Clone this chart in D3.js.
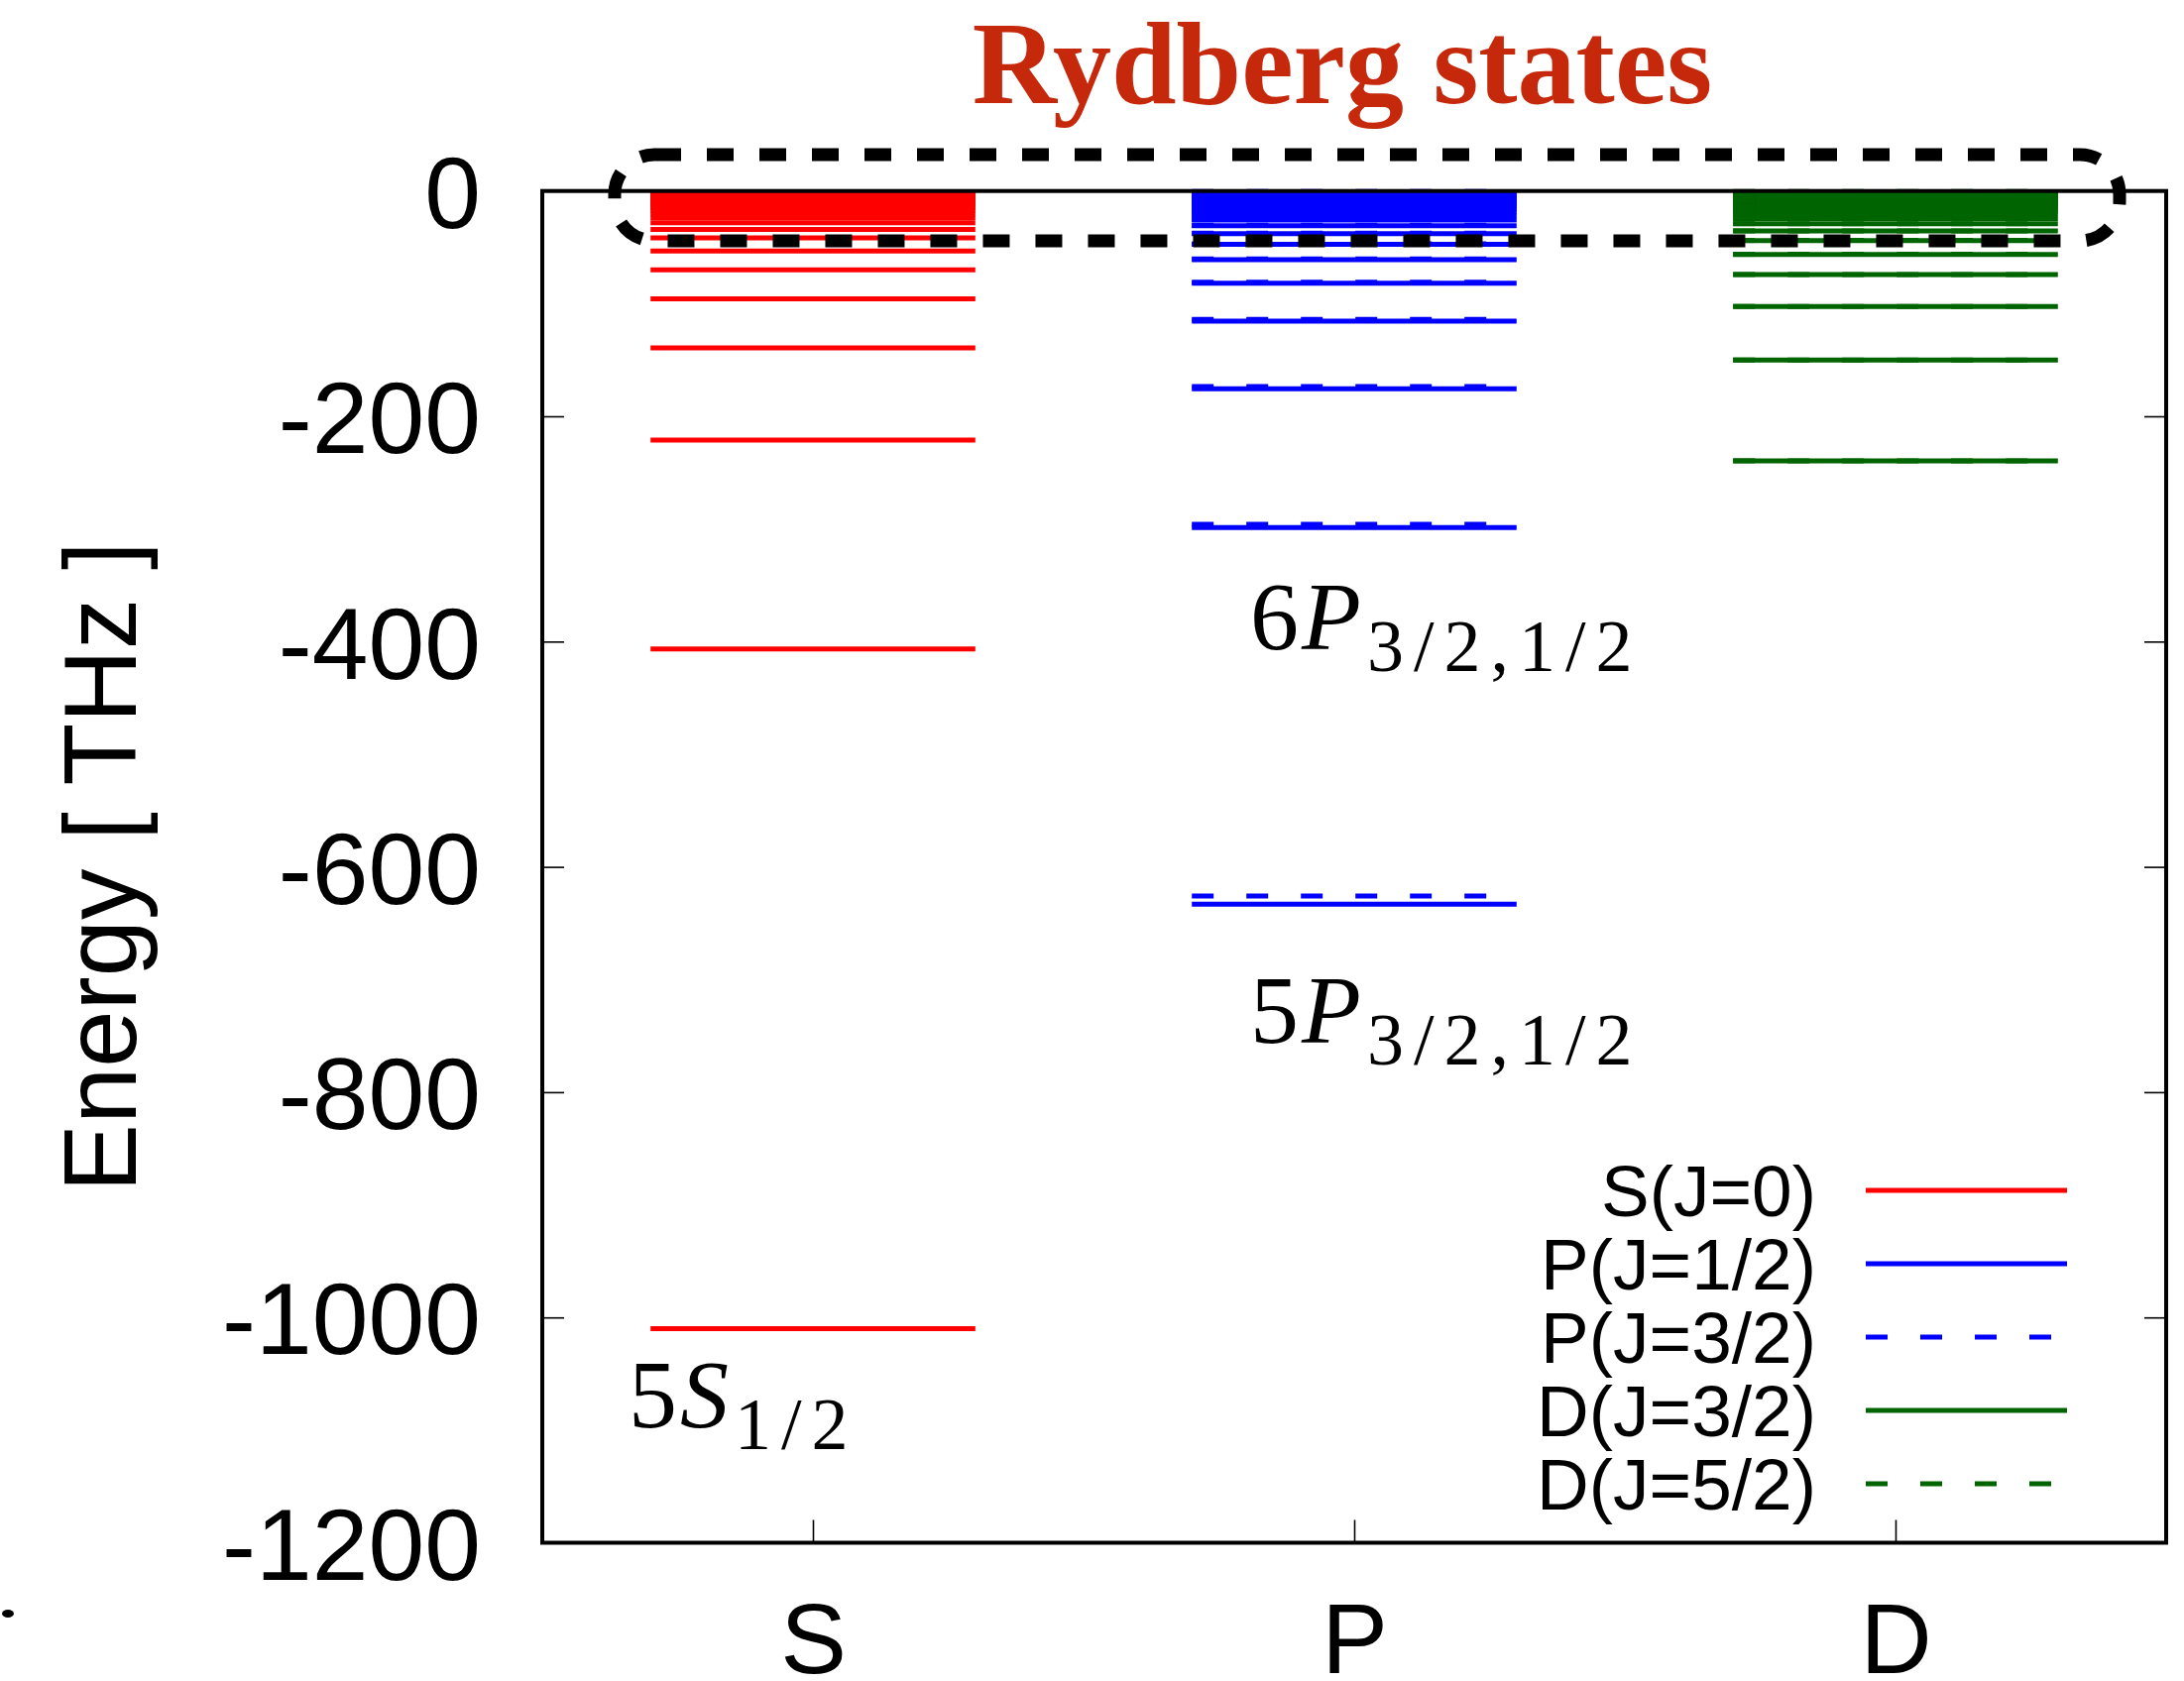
<!DOCTYPE html>
<html>
<head>
<meta charset="utf-8">
<script src="https://cdn.jsdelivr.net/npm/d3@7"></script>
<style>
  html, body { margin: 0; padding: 0; background: #fff; }
  svg { display: block; }
</style>
</head>
<body>
<svg id="chart" width="2203" height="1696"></svg>
<script>
// Orbital-angular-momentum columns and energy axis ticks
const categories = ["S", "P", "D"];
const yTicks = [0, -200, -400, -600, -800, -1000, -1200];

// Bound-state energies in THz (relative to the ionisation limit)
const sJ0 = [-1010.0, -406.5, -221.1, -139.3, -95.8, -70.0, -53.3, -41.7, -34.2, -28.2,
  -23.7, -20.2, -17.4, -15.2, -13.4, -11.9, -10.6, -9.5, -8.6, -7.8, -7.1, -6.5, -6.0,
  -5.5, -5.1, -4.7, -4.4, -4.1, -3.8, -3.5, -3.3, -3.1, -2.9, -2.7, -2.5, -2.3, -2.1,
  -1.9, -1.7, -1.5, -1.2, -0.9, -0.6];
const pJ12 = [-633.2, -298.8, -175.6, -115.6, -81.9, -61.0, -47.3, -37.8, -30.9, -25.8,
  -21.9, -18.8, -16.3, -14.3, -12.6, -11.2, -10.0, -9.0, -8.2, -7.4, -6.8, -6.2, -5.7,
  -5.2, -4.8, -4.4, -4.1, -3.8, -3.5, -3.3, -3.1, -2.9, -2.7, -2.5, -2.3, -2.1, -1.9,
  -1.7, -1.5, -1.2, -0.9, -0.6];
const pJ32 = [-625.9, -296.0, -173.6, -114.0, -80.9, -60.4, -46.9, -37.5, -30.7, -25.6,
  -21.8, -18.7, -16.2, -14.2, -12.5, -11.1, -9.9, -8.9, -8.1, -7.3, -6.7, -6.1, -5.6,
  -5.1, -4.7, -4.3, -4.0, -3.7, -3.4, -3.2, -3.0, -2.8, -2.6, -2.4, -2.2, -2.0, -1.8,
  -1.6, -1.4, -1.1, -0.8, -0.5];
const dJ32 = [-239.6, -150.1, -102.6, -74.2, -56.3, -44.0, -35.5, -29.1, -24.4, -20.8,
  -17.9, -15.6, -13.7, -12.2, -10.9, -9.8, -8.8, -8.0, -7.3, -6.6, -6.1, -5.6, -5.1,
  -4.7, -4.4, -4.1, -3.8, -3.5, -3.3, -3.1, -2.9, -2.7, -2.5, -2.3, -2.1, -1.9, -1.7,
  -1.5, -1.2, -0.9, -0.6];
const dJ52 = [-239.5, -150.0, -102.5, -74.1, -56.2, -43.9, -35.4, -29.0, -24.3, -20.7,
  -17.8, -15.5, -13.6, -12.1, -10.8, -9.7, -8.7, -7.9, -7.2, -6.5, -6.0, -5.5, -5.0,
  -4.6, -4.3, -4.0, -3.7, -3.4, -3.2, -3.0, -2.8, -2.6, -2.4, -2.2, -2.0, -1.8, -1.6,
  -1.4, -1.1, -0.8, -0.5];

const seriesNames = ["S(J=0)", "P(J=1/2)", "P(J=3/2)", "D(J=3/2)", "D(J=5/2)"];

const SANS = "'Liberation Sans', Arial, Helvetica, sans-serif";
const SERIF = "'Liberation Serif', 'Times New Roman', serif";

const series = [
  { name: seriesNames[0], cat: "S", values: sJ0, color: "#ff0000", dash: null },
  { name: seriesNames[1], cat: "P", values: pJ12, color: "#0000ff", dash: null },
  { name: seriesNames[2], cat: "P", values: pJ32, color: "#0000ff", dash: "22 33" },
  { name: seriesNames[3], cat: "D", values: dJ32, color: "#006400", dash: null },
  { name: seriesNames[4], cat: "D", values: dJ52, color: "#006400", dash: "22 33" }
];

const svg = d3.select("#chart");
const plotL = 547, plotR = 2185, plotT = 192.7, plotB = 1556.5;

const x = d3.scalePoint().domain(categories).range([plotL, plotR]).padding(0.5);
const y = d3.scaleLinear().domain([-1200, 0]).range([plotB, plotT]);
const halfW = x.step() * 0.3;

// Energy level lines
const levels = svg.append("g");
series.forEach(s => {
  levels.append("g")
    .selectAll("line")
    .data(s.values)
    .join("line")
    .attr("x1", x(s.cat) - halfW)
    .attr("x2", x(s.cat) + halfW)
    .attr("y1", d => y(d))
    .attr("y2", d => y(d))
    .attr("stroke", s.color)
    .attr("stroke-width", 5)
    .attr("stroke-dasharray", s.dash);
});

// Left axis (ticks + labels, plain hyphen for the sign)
const yAxisL = d3.axisLeft(y).tickValues(yTicks).tickSize(-22).tickPadding(0).tickFormat(d => String(d));
const gL = svg.append("g").attr("transform", `translate(${plotL},0)`).call(yAxisL);
gL.select(".domain").remove();
gL.selectAll(".tick line").attr("stroke", "#000").attr("stroke-width", 1.6);
gL.selectAll(".tick text")
  .attr("x", -62).attr("dy", "0.36em")
  .attr("font-family", SANS).attr("font-size", 102).attr("fill", "#000")
  .attr("text-anchor", "end");

// Right axis mirror ticks
const yAxisR = d3.axisRight(y).tickValues(yTicks).tickSize(-22).tickFormat("");
const gR = svg.append("g").attr("transform", `translate(${plotR},0)`).call(yAxisR);
gR.select(".domain").remove();
gR.selectAll(".tick line").attr("stroke", "#000").attr("stroke-width", 1.6);

// Bottom axis
const xAxis = d3.axisBottom(x).tickSize(-23).tickPadding(0);
const gB = svg.append("g").attr("transform", `translate(0,${plotB})`).call(xAxis);
gB.select(".domain").remove();
gB.selectAll(".tick line").attr("stroke", "#000").attr("stroke-width", 1.6);
gB.selectAll(".tick text")
  .attr("y", 131).attr("dy", 0)
  .attr("font-family", SANS).attr("font-size", 100).attr("fill", "#000");

// Plot border
svg.append("rect")
  .attr("x", plotL).attr("y", plotT)
  .attr("width", plotR - plotL).attr("height", plotB - plotT)
  .attr("fill", "none").attr("stroke", "#000").attr("stroke-width", 4);

// Axis title
svg.append("text")
  .attr("transform", `translate(137,${(plotT + plotB) / 2}) rotate(-90)`)
  .attr("text-anchor", "middle")
  .attr("font-family", SANS).attr("font-size", 103)
  .text("Energy [ THz ]");

// State labels with subscripts
function stateLabel(xPos, yPos, lead, letter, sub) {
  const t = svg.append("text")
    .attr("x", xPos).attr("y", yPos)
    .attr("font-family", SERIF).attr("font-size", 98).attr("fill", "#000");
  t.append("tspan").text(lead);
  t.append("tspan").attr("font-style", "italic").attr("dx", 3).text(letter);
  t.append("tspan").attr("font-size", 74).attr("dy", 22).attr("dx", 6)
    .attr("letter-spacing", 10).text(sub);
}
stateLabel(x("P") - 105, 655, "6", "P", "3/2,1/2");
stateLabel(x("P") - 105, 1052, "5", "P", "3/2,1/2");
stateLabel(634, 1440, "5", "S", "1/2");

// Legend
const legend = svg.append("g");
series.forEach((s, i) => {
  const ly = 1201 + i * 74;
  legend.append("text")
    .attr("x", 1832).attr("y", ly).attr("dy", "0.36em")
    .attr("text-anchor", "end")
    .attr("font-family", SANS).attr("font-size", 73)
    .text(s.name);
  legend.append("line")
    .attr("x1", 1882).attr("x2", 2085)
    .attr("y1", ly).attr("y2", ly)
    .attr("stroke", s.color).attr("stroke-width", 5)
    .attr("stroke-dasharray", s.dash);
});

// Highlight box around the Rydberg manifold
svg.append("rect")
  .attr("x", 620).attr("y", 156)
  .attr("width", 1518).attr("height", 87)
  .attr("rx", 40).attr("ry", 40)
  .attr("fill", "none").attr("stroke", "#000")
  .attr("stroke-width", 13).attr("stroke-dasharray", "27 26");

// Title
svg.append("text")
  .attr("x", 1354).attr("y", 104)
  .attr("text-anchor", "middle")
  .attr("font-family", SERIF).attr("font-weight", "bold").attr("font-size", 118)
  .attr("fill", "#c5280a")
  .text("Rydberg states");

// Small stray mark at lower left
svg.append("ellipse").attr("cx", 8).attr("cy", 1628).attr("rx", 6).attr("ry", 4).attr("fill", "#000");
</script>
</body>
</html>
